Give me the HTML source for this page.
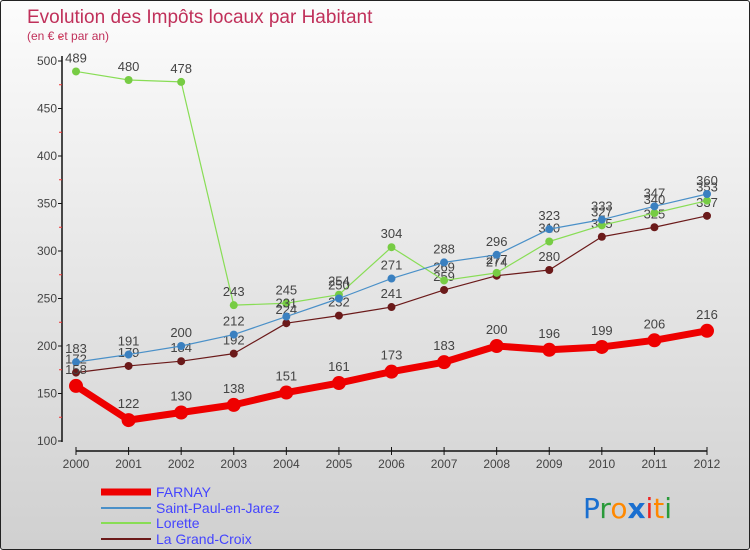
<!DOCTYPE html>
<html><head><meta charset="utf-8"><style>
body{margin:0;}
#c{width:748px;height:548px;border:1px solid #222;border-radius:3px;overflow:hidden;background:linear-gradient(#fcfcfc,#d0d0d0);position:relative;font-family:"Liberation Sans",sans-serif;}
</style></head><body>
<div id="c">
<svg id="s" width="748" height="548" xmlns="http://www.w3.org/2000/svg" font-family="Liberation Sans, sans-serif">
<text x="26" y="22" font-size="19" fill="#c0305a">Evolution des Impôts locaux par Habitant</text>
<text x="26" y="39" font-size="12" fill="#c0305a">(en € et par an)</text>
<g id="axes"></g><g id="series"></g>
<g>
<line x1="100" y1="491" x2="150" y2="491" stroke="#ee0000" stroke-width="7"/>
<text x="155" y="496" font-size="14" fill="#4444ff">FARNAY</text>
<line x1="100" y1="507" x2="150" y2="507" stroke="#4a90c8" stroke-width="2"/>
<text x="155" y="512" font-size="14" fill="#4444ff">Saint-Paul-en-Jarez</text>
<line x1="100" y1="522" x2="150" y2="522" stroke="#88dd55" stroke-width="2"/>
<text x="155" y="527" font-size="14" fill="#4444ff">Lorette</text>
<line x1="100" y1="538" x2="150" y2="538" stroke="#6b1a1a" stroke-width="2"/>
<text x="155" y="543" font-size="14" fill="#4444ff">La Grand-Croix</text>
</g>
<g font-size="28" font-family="DejaVu Sans, sans-serif">
<text x="582" y="517"><tspan fill="#1a6fd0">P</tspan><tspan fill="#2a9a3a">r</tspan><tspan fill="#ff8800">o</tspan><tspan fill="#1a6fd0" font-weight="bold">x</tspan><tspan fill="#ee2222">i</tspan><tspan fill="#ff8800">t</tspan><tspan fill="#2a9a3a">i</tspan></text>
</g>
</svg>
</div>
<script>
const years=["2000","2001","2002","2003","2004","2005","2006","2007","2008","2009","2010","2011","2012"];
const farnay=[158,122,130,138,151,161,173,183,200,196,199,206,216];
const saintPaul=[183,191,200,212,231,250,271,288,296,323,333,347,360];
const lorette=[489,480,478,243,245,254,304,269,277,310,327,340,353];
const grandCroix=[172,179,184,192,224,232,241,259,274,280,315,325,337];
const yTicks=[100,150,200,250,300,350,400,450,500];
const NS="http://www.w3.org/2000/svg";
function X(i){return 75+i*(706-75)/(years.length-1);}
function Y(v){return 440-(v-100)*0.95;}
function mk(t,a,p){const e=document.createElementNS(NS,t);for(const k in a)e.setAttribute(k,a[k]);p.appendChild(e);return e;}
const ax=document.getElementById('axes');
let l=mk('line',{x1:61,y1:55,x2:61,y2:441,stroke:'#111','stroke-width':1.5},ax);


l=mk('line',{x1:75,y1:450,x2:706,y2:450,stroke:'#111','stroke-width':1.5},ax);


yTicks.forEach(v=>{
 mk('line',{x1:57,y1:Y(v),x2:61,y2:Y(v),stroke:'#111'},ax);
 mk('line',{x1:58,y1:Y(v+25),x2:61,y2:Y(v+25),stroke:'#e33'},ax);
 const t=mk('text',{x:56,y:Y(v)+4,'font-size':12,fill:'#444','text-anchor':'end'},ax);t.textContent=v;
 
 
});
years.forEach((y,i)=>{
 mk('line',{x1:X(i),y1:446,x2:X(i),y2:454,stroke:'#111'},ax);
 const t=mk('text',{x:X(i),y:467,'font-size':12,fill:'#444','text-anchor':'middle'},ax);t.textContent=y;
 
 
});
const sg=document.getElementById('series');
function series(vals,color,w,r,name,dot){
 const g=mk('g',{},sg);
 
 
 mk('polyline',{points:vals.map((v,i)=>X(i)+','+Y(v)).join(' '),fill:'none',stroke:color,'stroke-width':w,'stroke-linejoin':'round'},g);
 vals.forEach((v,i)=>{
  const c=mk('circle',{cx:X(i),cy:Y(v),r:r,fill:dot},g);
  
  
  const t=mk('text',{x:X(i),y:Y(v)-(r+5),'font-size':13,fill:'#444','text-anchor':'middle'},g);t.textContent=v;
  
  
 });
}
series(grandCroix,'#6b1a1a',1.2,4,'la-grand-croix-series','#6b1a1a');
series(lorette,'#88dd55',1.2,4,'lorette-series','#77cc44');
series(saintPaul,'#4a90c8',1.2,4,'saint-paul-series','#3a80c0');
series(farnay,'#ee0000',7,7,'farnay-series','#ee0000');
</script>
</body></html>
